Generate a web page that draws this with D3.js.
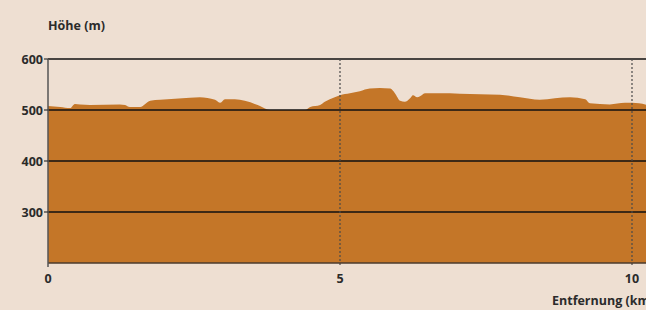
<!DOCTYPE html>
<html>
<head>
<meta charset="utf-8">
<script src="https://cdn.jsdelivr.net/npm/d3@7"></script>
<style>
  html, body { margin: 0; padding: 0; background: #eedfd2; overflow: hidden; }
  svg { display: block; }
  text { font-family: "Open Sans", "Noto Sans", sans-serif; font-weight: 700; fill: #2b2b2b; }
</style>
</head>
<body>
<svg width="646" height="310"></svg>
<script>
// profile: distance (km) and elevation (m)
var distKm = [0, 0.21, 0.38, 0.46, 0.55, 0.72, 1.23, 1.32, 1.40, 1.58, 1.75, 1.92, 2.43, 2.60, 2.86, 2.95, 3.03, 3.20, 3.37, 3.63, 3.80, 4.40, 4.49, 4.66, 4.74, 4.91, 5.00, 5.17, 5.34, 5.51, 5.68, 5.86, 5.94, 6.03, 6.11, 6.20, 6.25, 6.32, 6.37, 6.46, 6.71, 7.40, 7.74, 8.08, 8.42, 8.68, 8.94, 9.20, 9.28, 9.62, 9.88, 10.0, 10.3];
var elevM = [508, 506, 504, 512, 511, 510, 511, 510, 506, 506, 518, 520, 524, 525, 520, 514, 521, 521, 518, 508, 500, 500, 506, 510, 516, 525, 529, 533, 537, 542, 543, 542, 533, 518, 516, 523, 529, 525, 527, 533, 533, 531, 530, 525, 520, 523, 525, 521, 513, 511, 514, 514, 509];
var yTicks = [300, 400, 500, 600];
var xTicks = [0, 5, 10];

var svg = d3.select('svg');
var plotLeft = 48, plotTop = 59, plotBottom = 263;

var x = d3.scaleLinear().domain([0, 10]).range([plotLeft, 632]);
var y = d3.scaleLinear().domain([200, 600]).range([plotBottom, plotTop]);

var data = distKm.map(function (d, i) { return { km: d, h: elevM[i] }; });

var area = d3.area()
    .curve(d3.curveMonotoneX)
    .x(function (d) { return x(d.km); })
    .y0(y(200))
    .y1(function (d) { return y(d.h); });

svg.append('path')
    .datum(data)
    .attr('d', area)
    .attr('fill', '#c47628');

// horizontal grid lines
svg.selectAll('.grid')
    .data(yTicks)
    .enter().append('line')
    .attr('x1', plotLeft).attr('x2', 646)
    .attr('y1', function (d) { return y(d); })
    .attr('y2', function (d) { return y(d); })
    .attr('stroke', '#111')
    .attr('stroke-width', 1.3);

// dotted verticals at km marks
svg.selectAll('.vline')
    .data(xTicks.slice(1))
    .enter().append('line')
    .attr('x1', function (d) { return x(d); })
    .attr('x2', function (d) { return x(d); })
    .attr('y1', plotTop).attr('y2', plotBottom + 4)
    .attr('stroke', '#4a4a4a')
    .attr('stroke-width', 1.2)
    .attr('stroke-dasharray', '2,2');

// axes lines
svg.append('line')
    .attr('x1', plotLeft).attr('x2', 646)
    .attr('y1', plotBottom).attr('y2', plotBottom)
    .attr('stroke', '#4b3b2c').attr('stroke-width', 1.5);
svg.append('line')
    .attr('x1', plotLeft).attr('x2', plotLeft)
    .attr('y1', plotTop).attr('y2', plotBottom + 4)
    .attr('stroke', '#555').attr('stroke-width', 1.5);

// y tick marks + labels
svg.selectAll('.ytick')
    .data(yTicks)
    .enter().append('line')
    .attr('x1', plotLeft - 4).attr('x2', plotLeft)
    .attr('y1', function (d) { return y(d); })
    .attr('y2', function (d) { return y(d); })
    .attr('stroke', '#333').attr('stroke-width', 1.2);
svg.selectAll('.ylab')
    .data(yTicks)
    .enter().append('text')
    .attr('x', plotLeft - 5)
    .attr('y', function (d) { return y(d) + 4.5; })
    .attr('text-anchor', 'end')
    .attr('font-size', 12.5)
    .text(function (d) { return d; });

svg.selectAll('.xlab')
    .data(xTicks)
    .enter().append('text')
    .attr('x', function (d) { return x(d); })
    .attr('y', 283)
    .attr('text-anchor', 'middle')
    .attr('font-size', 12.5)
    .text(function (d) { return d; });

svg.append('text')
    .attr('x', 48).attr('y', 30)
    .attr('font-size', 12.5)
    .text('Höhe (m)');

svg.append('text')
    .attr('x', 552).attr('y', 305)
    .attr('font-size', 12.5)
    .text('Entfernung (km)');
</script>
</body>
</html>
